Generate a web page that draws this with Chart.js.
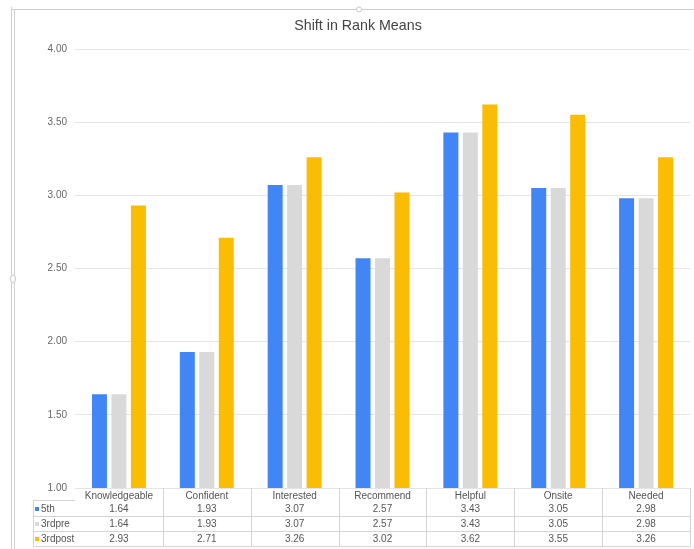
<!DOCTYPE html>
<html>
<head>
<meta charset="utf-8">
<script src="https://cdn.jsdelivr.net/npm/chart.js@4/dist/chart.umd.min.js"></script>
<style>
html,body{margin:0;padding:0;background:#fff;}
#wrap{position:relative;width:694px;height:549px;}
</style>
</head>
<body>
<div id="wrap"><canvas id="c" width="694" height="549"></canvas></div>
<script>
const chartTitle = 'Shift in Rank Means';
const categories = ['Knowledgeable','Confident','Interested','Recommend','Helpful','Onsite','Needed'];
const seriesNames = ['5th','3rdpre','3rdpost'];
const values5th = [1.64,1.93,3.07,2.57,3.43,3.05,2.98];
const values3rdpre = [1.64,1.93,3.07,2.57,3.43,3.05,2.98];
const values3rdpost = [2.93,2.71,3.26,3.02,3.62,3.55,3.26];
const yTickLabels = ['1.00','1.50','2.00','2.50','3.00','3.50','4.00'];
const colors = ['#4285F4','#D9D9D9','#FBBC04'];
const seriesValues = [values5th, values3rdpre, values3rdpost];

const FONT = "'Liberation Sans', Arial, sans-serif";

const tablePlugin = {
  id: 'tablePlugin',
  beforeDraw(chart){
    const ctx = chart.ctx;
    ctx.save();
    ctx.strokeStyle = '#cfcfcf';
    ctx.lineWidth = 1;
    ctx.beginPath();
    ctx.moveTo(11.5, 7); ctx.lineTo(11.5, 549);
    ctx.moveTo(14.5, 9); ctx.lineTo(14.5, 549);
    ctx.moveTo(12, 9.5); ctx.lineTo(694, 9.5);
    ctx.stroke();
    ctx.fillStyle = '#fff';
    ctx.strokeStyle = '#c8c8c8';
    ctx.beginPath(); ctx.arc(359, 9.5, 2.5, 0, Math.PI*2); ctx.fill(); ctx.stroke();
    ctx.beginPath(); ctx.ellipse(13, 279, 2.5, 4, 0, 0, Math.PI*2); ctx.fill(); ctx.stroke();
    // title
    ctx.fillStyle = '#444';
    ctx.font = '15px ' + FONT;
    ctx.textAlign = 'center';
    ctx.textBaseline = 'middle';
    ctx.save();
    ctx.translate(358, 26);
    ctx.scale(0.95, 1);
    ctx.fillText(chartTitle, 0, 0);
    ctx.restore();
    ctx.restore();
  },
  afterDraw(chart){
    const ctx = chart.ctx;
    const xs = chart.scales.x;
    const area = chart.chartArea;
    const n = categories.length;
    const catW = (area.right - area.left) / n;
    const top = area.bottom;
    const rowLines = [500.5, 516.5, 531.5, 546.5];
    const rowCenters = [509, 524, 539];
    const leftX = 33.5;
    ctx.save();
    ctx.strokeStyle = '#d4d4d4';
    ctx.lineWidth = 1;
    ctx.beginPath();
    for (let i = 1; i <= n; i++) {
      const x = Math.round(xs.getPixelForValue(i - 1) + catW / 2) + 0.5;
      ctx.moveTo(x, top); ctx.lineTo(x, 546.5);
    }
    ctx.moveTo(leftX, 500); ctx.lineTo(leftX, 546.5);
    ctx.moveTo(leftX, rowLines[0]); ctx.lineTo(area.left, rowLines[0]);
    for (let r = 1; r < rowLines.length; r++) {
      ctx.moveTo(leftX, rowLines[r]); ctx.lineTo(area.right, rowLines[r]);
    }
    ctx.stroke();
    ctx.font = '10px ' + FONT;
    ctx.textBaseline = 'middle';
    for (let s = 0; s < seriesNames.length; s++) {
      const y = rowCenters[s];
      ctx.fillStyle = colors[s];
      ctx.fillRect(35, y - 2, 4, 4);
      ctx.fillStyle = '#555';
      ctx.textAlign = 'left';
      ctx.fillText(seriesNames[s], 41, y);
      ctx.textAlign = 'center';
      for (let i = 0; i < n; i++) {
        ctx.fillText(seriesValues[s][i].toFixed(2), xs.getPixelForValue(i), y);
      }
    }
    ctx.restore();
  }
};

new Chart(document.getElementById('c'), {
  type: 'bar',
  data: {
    labels: categories,
    datasets: seriesNames.map((name, s) => ({
      label: name,
      data: seriesValues[s],
      backgroundColor: colors[s],
      borderWidth: 0,
      categoryPercentage: 0.665,
      barPercentage: 0.77
    }))
  },
  options: {
    responsive: false,
    animation: false,
    devicePixelRatio: 1,
    layout: { padding: { left: 0, right: 4, top: 49, bottom: 48 } },
    plugins: {
      legend: { display: false },
      tooltip: { enabled: false },
      title: { display: false }
    },
    scales: {
      x: {
        grid: { display: false, drawTicks: false },
        border: { display: false },
        ticks: { color: '#555', font: { family: FONT, size: 10 }, padding: 2, maxRotation: 0, autoSkip: false },
        afterFit(scale){ scale.height = 13; }
      },
      y: {
        min: 1,
        max: 4,
        grid: { color: '#e4e4e4', drawTicks: false },
        border: { display: false },
        ticks: {
          stepSize: 0.5,
          color: '#666',
          padding: 8,
          font: { family: FONT, size: 10 },
          callback: (v) => yTickLabels[Math.round((v - 1) / 0.5)]
        },
        afterFit(scale){ scale.width = 75; }
      }
    }
  },
  plugins: [tablePlugin]
});
</script>
</body>
</html>
